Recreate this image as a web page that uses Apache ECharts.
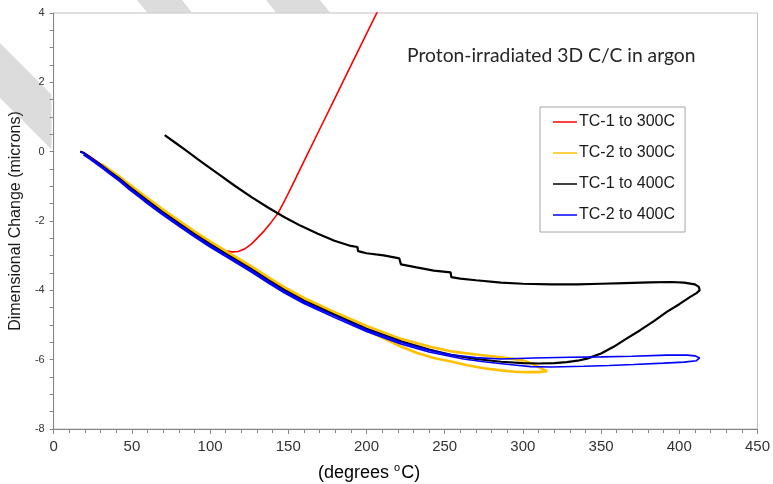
<!DOCTYPE html>
<html>
<head>
<meta charset="utf-8">
<script src="https://cdn.jsdelivr.net/npm/echarts@6/dist/echarts.min.js"></script>
<style>
  html, body { margin: 0; padding: 0; background: #fff; }
  #chart { width: 773px; height: 484px; }
</style>
</head>
<body>
<div id="chart"></div>
<script>
// Thermal cycle runs: temperature (degrees C) vs dimensional change (microns)
const seriesNames = ['TC-1 to 300C', 'TC-2 to 300C', 'TC-1 to 400C', 'TC-2 to 400C'];
const seriesColors = ['#ff0000', '#ffc000', '#000000', '#0000ff'];

const tc1_300 = [
  [17,0.00],[19,-0.03],[22,-0.11],[26,-0.23],[30.8,-0.38],[36,-0.55],[42,-0.75],[48,-0.97],
  [58,-1.32],[69,-1.69],[80,-2.04],[90,-2.35],[100,-2.64],[105,-2.77],[110,-2.86],[114,-2.89],
  [118,-2.88],[122,-2.81],[126.5,-2.66],[130.5,-2.48],[134.9,-2.27],[139,-2.04],[143.4,-1.78],
  [147.5,-1.43],[152,-1.02],[160,-0.28],[170,0.64],[180,1.56],[190,2.48],[200,3.40],[207,4.04],[212,4.5]
];

const tc2_300 = [
  [30.8,-0.38],[36,-0.56],[42,-0.76],[48,-0.98],[58,-1.32],[69,-1.69],[80,-2.04],[90,-2.35],
  [100,-2.64],[111.7,-2.97],[126.4,-3.37],[137,-3.68],[147.4,-3.97],[160,-4.29],[179.3,-4.71],
  [190,-4.94],[200,-5.16],[210,-5.36],[222,-5.62],[232,-5.80],[243,-5.95],[254,-6.05],[264.5,-6.16],
  [275,-6.25],[286,-6.31],[295,-6.35],[303,-6.36],[310,-6.36],[315.5,-6.33],
  [312,-6.26],[306,-6.12],[300,-6.02],[286,-5.93],[270,-5.85],[254,-5.76],[240,-5.62],[222,-5.40],
  [200,-5.03],[179.3,-4.62],[160,-4.22],[147.4,-3.91],[137,-3.62],[126.4,-3.31],[111.7,-2.91],
  [100,-2.59],[90,-2.30],[80,-1.99],[69,-1.64],[58,-1.27],[48,-0.93],[42,-0.72],[36,-0.53],[30.8,-0.36]
];

const tc1_400 = [
  [17,0.00],[19,-0.03],[22,-0.12],[26,-0.25],[30.8,-0.40],[36,-0.58],[42,-0.78],[48,-1.00],
  [58,-1.35],[69,-1.72],[80,-2.07],[90,-2.38],[100,-2.67],[111.7,-2.99],[126.4,-3.39],[137,-3.70],
  [147.4,-3.99],[160,-4.30],[179.3,-4.70],[200,-5.11],[222,-5.47],[240,-5.71],[254,-5.86],
  [270,-5.98],[286,-6.06],[300,-6.10],[310,-6.11],[320,-6.10],[328,-6.07],[335,-6.03],[341,-5.97],
  [350,-5.82],[358,-5.63],[366,-5.40],[375,-5.15],[384,-4.88],[392,-4.62],[400,-4.40],[407,-4.19],
  [411,-4.08],[413,-4.00],[412.5,-3.90],[410,-3.83],[403,-3.78],[395,-3.76],[381,-3.77],[365,-3.79],
  [350,-3.81],[335,-3.83],[318,-3.83],[300,-3.81],[286,-3.78],[270,-3.71],[260,-3.66],[254.2,-3.62],
  [253.8,-3.48],[243,-3.43],[232,-3.34],[222,-3.25],[221,-3.08],[211,-2.99],[200,-2.93],[196.5,-2.89],
  [194.6,-2.87],[194.2,-2.75],[190,-2.72],[179.5,-2.57],[168.9,-2.37],[158,-2.14],[147.6,-1.89],
  [137,-1.61],[126.5,-1.31],[116,-0.99],[105.2,-0.64],[94,-0.28],[85,0.02],[78,0.25],[71,0.48]
];

const tc2_400 = [
  [17,0.00],[19,-0.04],[22,-0.13],[26,-0.26],[30.8,-0.42],[36,-0.60],[42,-0.80],[48,-1.03],
  [58,-1.38],[69,-1.75],[80,-2.10],[90,-2.41],[100,-2.70],[111.7,-3.02],[126.4,-3.42],[137,-3.73],
  [147.4,-4.02],[160,-4.33],[179.3,-4.73],[200,-5.14],[222,-5.50],[240,-5.73],[254,-5.86],
  [270,-5.94],[286,-5.98],[307,-5.95],[330,-5.93],[350,-5.92],[370,-5.90],[392,-5.87],[405,-5.87],
  [410,-5.89],[413,-5.95],[411,-6.03],[403,-6.07],[390,-6.10],[371,-6.14],[355,-6.17],[339,-6.19],
  [318,-6.21],[305,-6.20],[296,-6.16],[285,-6.11],[275,-6.06],[262,-5.98],[254,-5.91],[240,-5.78],
  [222,-5.55],[200,-5.19],[179.3,-4.78],[160,-4.38],[147.4,-4.07],[137,-3.78],[126.4,-3.47],
  [111.7,-3.07],[100,-2.75],[90,-2.46],[80,-2.15],[69,-1.80],[58,-1.43],[48,-1.08],[42,-0.85],
  [36,-0.65],[30.8,-0.47],[26,-0.31],[22,-0.18],[19,-0.09]
];

const seriesData = [tc1_300, tc2_300, tc1_400, tc2_400];
const seriesWidths = [1.6, 2.6, 2.2, 1.6];

const chartTitle = 'Proton-irradiated 3D C/C in argon';
const yAxisTitle = 'Dimensional Change (microns)';

const chart = echarts.init(document.getElementById('chart'), null, { renderer: 'canvas' });

const axisFont = 'Liberation Sans, Arial, sans-serif';

chart.setOption({
  animation: false,
  backgroundColor: '#ffffff',
  title: {
    text: chartTitle,
    left: 407,
    top: 46,
    padding: 0,
    textStyle: { fontFamily: 'Lato, Open Sans, sans-serif', fontSize: 19.3, fontWeight: 'normal', color: '#262626' }
  },
  legend: {
    orient: 'vertical',
    left: 540,
    top: 107,
    padding: [7, 10, 9, 13],
    itemWidth: 24,
    itemHeight: 16,
    itemGap: 15,
    backgroundColor: '#ffffff',
    borderColor: '#a6a6a6',
    borderWidth: 1,
    icon: 'path://M0,7.25L24,7.25L24,8.75L0,8.75Z',
    data: seriesNames,
    textStyle: { fontFamily: axisFont, fontSize: 16, color: '#1a1a1a', padding: [0, 0, 0, -3] }
  },
  grid: {
    left: 52, right: 15, top: 13, bottom: 55,
    show: true,
    backgroundColor: '#ffffff',
    borderColor: '#bfbfbf',
    borderWidth: 1
  },
  xAxis: {
    type: 'value',
    min: 0, max: 450, interval: 50,
    axisLine: { onZero: false, lineStyle: { color: '#868686', width: 1 } },
    axisTick: { show: true, inside: false, length: 5, lineStyle: { color: '#868686' } },
    minorTick: { show: true, splitNumber: 5, length: 4, lineStyle: { color: '#868686' } },
    splitLine: { show: false },
    axisLabel: { fontFamily: axisFont, fontSize: 15, color: '#333333', margin: 10 }
  },
  yAxis: {
    type: 'value',
    min: -8, max: 4, interval: 2,
    name: yAxisTitle,
    nameLocation: 'middle',
    nameGap: 25,
    nameTextStyle: { fontFamily: axisFont, fontSize: 16, color: '#1a1a1a' },
    axisLine: { lineStyle: { color: '#868686', width: 1 } },
    axisTick: { show: true, inside: false, length: 4, lineStyle: { color: '#868686' } },
    minorTick: { show: true, splitNumber: 4, length: 4, lineStyle: { color: '#868686' } },
    splitLine: { show: false },
    axisLabel: { fontFamily: axisFont, fontSize: 11, color: '#333333', margin: 9 }
  },
  graphic: [
    // faint diagonal bands along the upper-left margin
    { type: 'polygon', silent: true, z: -10, shape: { points: [[137,0],[182,0],[192,12.5],[147,12.5]] }, style: { fill: '#dcdcdc' } },
    { type: 'polygon', silent: true, z: -10, shape: { points: [[266,0],[320,0],[330,12.5],[276,12.5]] }, style: { fill: '#dcdcdc' } },
    { type: 'polygon', silent: true, z: -10, shape: { points: [[0,43],[0,98],[51.5,149.5],[51.5,94.5]] }, style: { fill: '#dcdcdc' } },
    {
      type: 'text',
      silent: true,
      left: 318,
      top: 462,
      style: {
        text: '{a|(degrees }{s|o}{a|C)}',
        rich: {
          a: { fontFamily: axisFont, fontSize: 18, color: '#1a1a1a', lineHeight: 20, verticalAlign: 'bottom' },
          s: { fontFamily: axisFont, fontSize: 11, color: '#1a1a1a', lineHeight: 20, verticalAlign: 'top', padding: [0, 1, 6, 0] }
        }
      }
    }
  ],
  series: seriesData.map((d, i) => ({
    name: seriesNames[i],
    type: 'line',
    data: d,
    symbol: 'none',
    smooth: false,
    clip: true,
    color: seriesColors[i],
    lineStyle: { color: seriesColors[i], width: seriesWidths[i] },
    z: 2 + i
  }))
});
</script>
</body>
</html>
